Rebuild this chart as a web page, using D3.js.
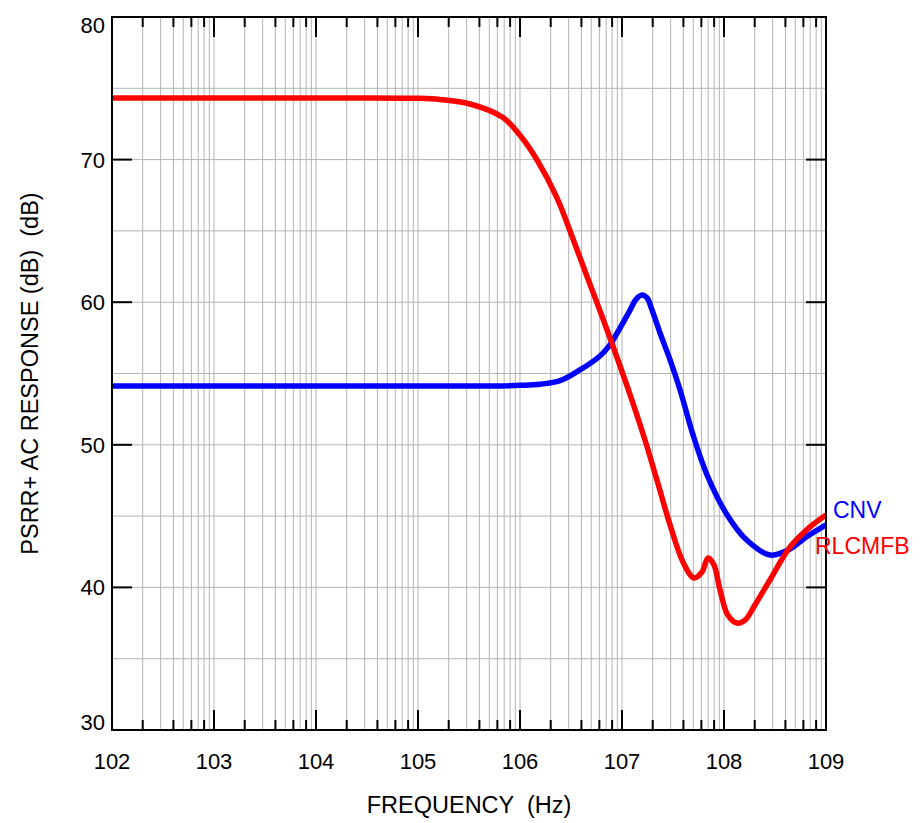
<!DOCTYPE html>
<html>
<head>
<meta charset="utf-8">
<script src="https://cdn.jsdelivr.net/npm/d3@7"></script>
<style>
  body { margin: 0; background: #fff; }
  text { font-family: "Liberation Sans", Arial, sans-serif; fill: #000; }
</style>
</head>
<body>
<script>
var width = 920,
  height = 823;

var margin = { left: 112, top: 17, right: 94, bottom: 93 };

// x tick labels (decades), y ticks
var decades = [1e2, 1e3, 1e4, 1e5, 1e6, 1e7, 1e8, 1e9];
var decadeLabels = ["102", "103", "104", "105", "106", "107", "108", "109"];
var yTicks = [30, 40, 50, 60, 70, 80];
var yGrid = [35, 40, 45, 50, 55, 60, 65, 70, 75];

// CNV series (blue)
var cnvFreq = [1e2, 1e4, 3e5, 6.3e5, 1e6, 1.57e6, 2.47e6, 3.87e6, 6.08e6, 7.62e6, 9.55e6, 1.2e7, 1.37e7, 1.57e7,
  1.76e7, 1.97e7, 2.36e7, 2.96e7, 3.71e7, 4.97e7, 6.81e7, 1.07e8, 1.68e8, 2.82e8, 4.44e8, 6.22e8, 1e9];
var cnvDb = [54.12, 54.12, 54.12, 54.13, 54.17, 54.25, 54.5, 55.25, 56.23, 57.0, 58.19, 59.45, 60.2, 60.5,
  60.3, 59.45, 57.84, 55.95, 53.84, 50.69, 47.9, 45.1, 43.3, 42.27, 42.69, 43.47, 44.38];

// RLCMFB series (red)
var rlcFreq = [1e2, 1e4, 1e5, 1.64e5, 3.24e5, 6.81e5, 1e6, 1.47e6, 2.31e6, 3.24e6, 4.54e6, 6.08e6, 7.98e6,
  1.25e7, 1.68e7, 2.2e7, 2.96e7, 3.96e7, 5.08e7, 6.08e7, 6.97e7, 7.98e7, 9.14e7, 1.09e8, 1.34e8, 1.61e8,
  2.01e8, 2.82e8, 4.44e8, 6.97e8, 1e9];
var rlcDb = [74.32, 74.32, 74.3, 74.22, 73.9, 72.95, 71.7, 69.97, 67.3, 64.6, 61.8, 59.4, 57.1,
  53.14, 50.34, 47.53, 44.38, 41.78, 40.66, 41.08, 42.06, 41.57, 39.82, 38.06, 37.5, 37.71,
  38.77, 40.52, 42.83, 44.24, 45.08];

var svg = d3.select("body").append("svg")
  .attr("width", width)
  .attr("height", height);

var x = d3.scaleLog()
  .domain([1e2, 1e9])
  .range([margin.left, width - margin.right]);

var y = d3.scaleLinear()
  .domain([30, 80])
  .range([height - margin.bottom, margin.top]);

var x0 = x.range()[0], x1 = x.range()[1],
  y0 = y.range()[0], y1 = y.range()[1];

// minor frequencies 2..9 in every decade
var minorAll = [];
var minorTicks = [];
decades.slice(0, -1).forEach(function (d) {
  for (var k = 2; k <= 9; k++) {
    minorAll.push(d * k);
    if (k % 2 === 0) minorTicks.push(d * k);
  }
});

var grid = svg.append("g")
  .attr("stroke", "#b4b4b4")
  .attr("stroke-width", 1);

grid.selectAll(".vgrid")
  .data(minorAll.concat(decades.slice(1, -1)))
  .enter().append("line")
  .attr("x1", function (d) { return x(d); })
  .attr("x2", function (d) { return x(d); })
  .attr("y1", y1)
  .attr("y2", y0);

grid.selectAll(".hgrid")
  .data(yGrid)
  .enter().append("line")
  .attr("x1", x0)
  .attr("x2", x1)
  .attr("y1", function (d) { return y(d); })
  .attr("y2", function (d) { return y(d); });

// ticks, pointing inwards
var ticks = svg.append("g")
  .attr("stroke", "#000")
  .attr("stroke-width", 2);

function xTickLines(data, len) {
  data.forEach(function (d) {
    ticks.append("line")
      .attr("x1", x(d)).attr("x2", x(d))
      .attr("y1", y0).attr("y2", y0 - len);
    ticks.append("line")
      .attr("x1", x(d)).attr("x2", x(d))
      .attr("y1", y1).attr("y2", y1 + len);
  });
}
xTickLines(minorTicks, 10);
xTickLines(decades, 20);

yTicks.forEach(function (d) {
  ticks.append("line")
    .attr("x1", x0).attr("x2", x0 + 20)
    .attr("y1", y(d)).attr("y2", y(d));
  ticks.append("line")
    .attr("x1", x1).attr("x2", x1 - 20)
    .attr("y1", y(d)).attr("y2", y(d));
});

// curves
var line = d3.line()
  .x(function (d) { return x(d[0]); })
  .y(function (d) { return y(d[1]); })
  .curve(d3.curveCatmullRom.alpha(0.5));

svg.append("path")
  .datum(d3.zip(cnvFreq, cnvDb))
  .attr("fill", "none")
  .attr("stroke", "#0000ff")
  .attr("stroke-width", 5.5)
  .attr("d", line);

svg.append("path")
  .datum(d3.zip(rlcFreq, rlcDb))
  .attr("fill", "none")
  .attr("stroke", "#ff0000")
  .attr("stroke-width", 5.5)
  .attr("d", line);

// frame
svg.append("rect")
  .attr("x", x0).attr("y", y1)
  .attr("width", x1 - x0).attr("height", y0 - y1)
  .attr("fill", "none")
  .attr("stroke", "#000")
  .attr("stroke-width", 2);

// tick labels
svg.append("g").selectAll("text")
  .data(decades)
  .enter().append("text")
  .attr("x", function (d) { return x(d); })
  .attr("y", y0 + 39)
  .attr("text-anchor", "middle")
  .attr("font-size", 22)
  .text(function (d, i) { return decadeLabels[i]; });

svg.append("g").selectAll("text")
  .data(yTicks)
  .enter().append("text")
  .attr("x", x0 - 7)
  .attr("y", function (d) {
    if (d === 80) return y(d) + 15.5;
    if (d === 30) return y(d);
    return y(d) + 8;
  })
  .attr("text-anchor", "end")
  .attr("font-size", 22)
  .text(function (d) { return d; });

// axis titles
svg.append("text")
  .attr("x", (x0 + x1) / 2)
  .attr("y", 813)
  .attr("text-anchor", "middle")
  .attr("font-size", 23.5)
  .style("white-space", "pre")
  .text("FREQUENCY  (Hz)");

svg.append("text")
  .attr("transform", "translate(38," + ((y0 + y1) / 2) + ") rotate(-90)")
  .attr("text-anchor", "middle")
  .attr("font-size", 23.5)
  .style("white-space", "pre")
  .text("PSRR+ AC RESPONSE (dB)  (dB)");

// series labels
svg.append("text")
  .attr("x", x1 + 7)
  .attr("y", 518)
  .attr("font-size", 23)
  .style("fill", "#0000ff")
  .text("CNV");

svg.append("text")
  .attr("x", x1 - 11)
  .attr("y", 554)
  .attr("font-size", 23)
  .style("fill", "#ff0000")
  .text("RLCMFB");
</script>
</body>
</html>
